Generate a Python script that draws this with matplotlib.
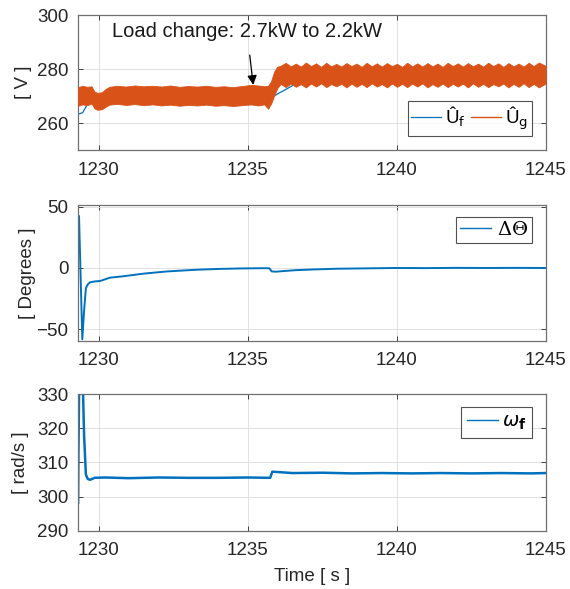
import matplotlib
matplotlib.use("Agg")
import matplotlib.pyplot as plt
from matplotlib.font_manager import FontProperties

plt.rcParams['font.family'] = ['Liberation Sans', 'DejaVu Sans']
plt.rcParams['mathtext.fontset'] = 'dejavusans'

# ---------------- data ----------------
xticks = [1230, 1235, 1240, 1245]

# U_f (blue, thin)
uf_t = [1229.30, 1229.45, 1229.58, 1229.67, 1229.8, 1230.5, 1235.0, 1235.8,
        1236.0, 1236.3, 1236.63, 1236.9, 1237.5, 1245.0]
uf_v = [263.3, 263.8, 266.3, 267.9, 269.0, 269.5, 269.8, 269.5,
        270.8, 272.6, 274.7, 276.0, 277.3, 277.5]

# U_g (orange, oscillating band) -> upper / lower envelope
ug_t = [1229.30, 1229.45, 1229.6, 1229.75, 1229.85, 1229.95, 1230.1, 1230.22, 1230.35, 1230.6,
        1230.9, 1231.2, 1231.5, 1231.8, 1232.1, 1232.4, 1232.7, 1233.0, 1233.3, 1233.6,
        1233.9, 1234.2, 1234.5, 1234.8, 1235.1, 1235.35, 1235.55, 1235.68, 1235.78, 1235.88,
        1235.98,
        1236.10, 1236.27, 1236.44, 1236.61, 1236.78, 1236.95, 1237.12, 1237.29, 1237.46, 1237.63,
        1237.80, 1237.97, 1238.14, 1238.31, 1238.48, 1238.65, 1238.82, 1238.99, 1239.16, 1239.33,
        1239.50, 1239.67, 1239.84, 1240.01, 1240.18, 1240.35, 1240.52, 1240.69, 1240.86, 1241.03,
        1241.20, 1241.37, 1241.54, 1241.71, 1241.88, 1242.05, 1242.22, 1242.39, 1242.56, 1242.73,
        1242.90, 1243.07, 1243.24, 1243.41, 1243.58, 1243.75, 1243.92, 1244.09, 1244.26, 1244.43,
        1244.60, 1244.77, 1245.0]
ug_hi = [273.3, 273.8, 273.4, 273.6, 271.6, 271.2, 271.4, 272.6, 273.4, 273.8,
         273.5, 273.9, 273.6, 273.8, 273.5, 273.9, 273.4, 273.7, 273.5, 273.8,
         273.4, 273.6, 273.3, 273.7, 274.1, 273.9, 273.6, 273.8, 275.5, 279.0,
         280.8,
         281.2, 282.3, 281.0, 282.0, 280.9, 282.4, 281.1, 282.1, 280.8, 282.3,
         281.0, 281.9, 280.9, 282.2, 281.1, 282.0, 280.8, 282.3, 281.0, 282.1,
         280.9, 282.2, 281.1, 281.9, 280.8, 282.3, 281.0, 282.1, 280.9, 282.2,
         281.0, 282.0, 280.8, 282.3, 281.1, 282.1, 280.9, 282.2, 281.0, 282.0,
         280.9, 282.3, 281.1, 282.1, 280.8, 282.2, 281.0, 282.0, 280.9, 282.3,
         281.1, 282.4, 281.2]
ug_lo = [266.4, 266.9, 266.6, 267.2, 265.4, 264.9, 265.1, 266.0, 266.8, 267.1,
         266.7, 267.0, 266.6, 266.9, 266.5, 266.8, 266.4, 266.7, 266.5, 266.8,
         266.4, 266.6, 266.3, 266.6, 266.9, 266.5, 266.9, 265.3, 267.2, 270.0,
         272.8,
         274.5, 273.3, 274.6, 273.4, 274.4, 273.2, 274.6, 273.5, 274.7, 273.3,
         274.4, 273.6, 274.5, 273.2, 274.6, 273.4, 274.5, 273.3, 274.7, 273.5,
         274.4, 273.2, 274.6, 273.4, 274.5, 273.3, 274.6, 273.5, 274.7, 273.2,
         274.4, 273.4, 274.6, 273.3, 274.5, 273.5, 274.6, 273.2, 274.7, 273.4,
         274.5, 273.3, 274.4, 273.6, 274.6, 273.2, 274.5, 273.4, 274.7, 273.3,
         274.5, 273.2, 274.6]

# Delta Theta
th_t = [1229.30, 1229.33, 1229.44, 1229.50, 1229.56, 1229.62, 1229.70, 1229.85, 1230.04, 1230.37,
        1230.8, 1231.15, 1231.5, 1231.94, 1232.3, 1232.72, 1233.3, 1234.0, 1234.7, 1235.4,
        1235.72, 1235.8, 1235.95, 1236.2, 1236.6, 1237.2, 1238.0, 1239.0, 1240.0, 1241.0,
        1242.0, 1243.0, 1244.0, 1245.0]
th_v = [28.2, 42.4, -58.2, -35.0, -16.6, -13.5, -11.7, -11.0, -10.6, -7.9,
        -6.8, -5.7, -4.6, -3.6, -2.8, -2.2, -1.4, -0.8, -0.4, -0.2,
        -0.2, -2.8, -3.0, -2.5, -1.8, -1.2, -0.6, -0.3, 0.0, -0.1,
        0.1, 0.0, 0.1, 0.0]

# omega_f
w_t = [1229.30, 1229.31, 1229.34, 1229.40, 1229.45, 1229.50, 1229.56, 1229.62, 1229.70, 1229.85,
       1230.2, 1231.0, 1232.0, 1233.0, 1234.0, 1235.0, 1235.75, 1235.82, 1236.0, 1236.5,
       1237.5, 1238.5, 1239.5, 1240.5, 1241.5, 1242.5, 1243.5, 1244.5, 1245.0]
w_v = [298.2, 312, 338, 345, 336, 318, 306.5, 305.2, 304.9, 305.5,
       305.6, 305.4, 305.6, 305.5, 305.5, 305.6, 305.5, 307.3, 307.2, 306.9,
       307.0, 306.8, 306.9, 306.8, 306.9, 306.8, 306.9, 306.8, 306.9]

annot_text = "Load change: 2.7kW to 2.2kW"
annot_xy = (1235.18, 274.1)
annot_txt_xy = (1234.97, 293.8)

# ---------------- styling ----------------
BLUE = '#0072BD'
ORANGE = '#D95319'
TXT = '#262626'
FS = 13.5

fig = plt.figure(figsize=(5.70, 5.89), dpi=100)
L, W = 0.1368, 0.8205
ax1 = fig.add_axes([L, 0.7453, W, 0.2292])
ax2 = fig.add_axes([L, 0.4216, W, 0.2304])
ax3 = fig.add_axes([L, 0.0990, W, 0.2316])

for ax in (ax1, ax2, ax3):
    ax.set_xlim(1229.295, 1245)
    ax.set_xticks(xticks)
    ax.grid(True, color='#dcdcdc', lw=0.6)
    ax.set_axisbelow(True)
    ax.tick_params(direction='in', top=True, right=True, length=3.5, width=0.7,
                   labelsize=FS, labelcolor=TXT, color='#404040')
    ax.tick_params(axis='x', pad=8.5)
    ax.tick_params(axis='y', pad=7)
    for s in ax.spines.values():
        s.set_color('#707070')
        s.set_linewidth(0.9)

# top panel
ax1.plot(uf_t, uf_v, color=BLUE, lw=0.9, label='Û$_{\\mathrm{f}}$', zorder=2)
ax1.fill_between(ug_t, ug_lo, ug_hi, color=ORANGE, lw=0.6, edgecolor=ORANGE, zorder=3)
ax1.plot([], [], color=ORANGE, lw=1.0, label='Û$_{\\mathrm{g}}$')
ax1.set_ylim(250, 300)
ax1.set_yticks([260, 280, 300])
ax1.set_ylabel('[ V ]', fontsize=FS, color=TXT)
ax1.yaxis.set_label_coords(-0.098, 0.5)
ax1.annotate(annot_text, xy=annot_xy, xytext=annot_txt_xy, fontsize=14.5, color='#1a1a1a',
             ha='center', va='center',
             arrowprops=dict(arrowstyle='-|>', color='k', lw=0.9, mutation_scale=14,
                             shrinkA=8, shrinkB=0))
leg1 = ax1.legend(loc='upper right', bbox_to_anchor=(0.9707, 0.363), ncol=2,
                  fontsize=FS, frameon=True, fancybox=False, handlelength=1.6,
                  columnspacing=0.3, handletextpad=0.2, borderpad=0.2,
                  borderaxespad=0)
leg1.get_frame().set_edgecolor('#262626')
leg1.get_frame().set_linewidth(0.8)

# middle panel
ax2.plot(th_t, th_v, color=BLUE, lw=1.4, label=r'$\Delta\Theta$')
ax2.set_ylim(-59.3, 51.4)
ax2.set_yticks([-50, 0, 50])
ax2.set_ylabel('[ Degrees ]', fontsize=FS, color=TXT)
ax2.yaxis.set_label_coords(-0.09, 0.5)
leg2 = ax2.legend(loc='upper right', bbox_to_anchor=(0.9707, 0.9116),
                  prop=FontProperties(size=FS + 0.5, math_fontfamily='dejavuserif'),
                  frameon=True, fancybox=False, handlelength=1.6,
                  handletextpad=0.3, borderpad=0.2, borderaxespad=0)
leg2.get_frame().set_edgecolor('#262626')
leg2.get_frame().set_linewidth(0.8)
for ln in leg2.get_lines():
    ln.set_linewidth(1.0)

# bottom panel
ax3.plot(w_t, w_v, color=BLUE, lw=1.8, label=r'$\omega_{\mathbf{f}}$')
ax3.set_ylim(290, 330)
ax3.set_yticks([290, 300, 310, 320, 330])
ax3.set_ylabel('[ rad/s ]', fontsize=FS, color=TXT)
ax3.yaxis.set_label_coords(-0.105, 0.5)
ax3.set_xlabel('Time [ s ]', fontsize=FS, color=TXT, labelpad=6)
leg3 = ax3.legend(loc='upper right', bbox_to_anchor=(0.9707, 0.907),
                  fontsize=FS + 0.5, frameon=True, fancybox=False, handlelength=1.6,
                  handletextpad=0.2, borderpad=0.3, borderaxespad=0)
leg3.get_frame().set_edgecolor('#262626')
leg3.get_frame().set_linewidth(0.8)
for ln in leg3.get_lines():
    ln.set_linewidth(1.0)

fig.savefig('out.png', dpi=100)
